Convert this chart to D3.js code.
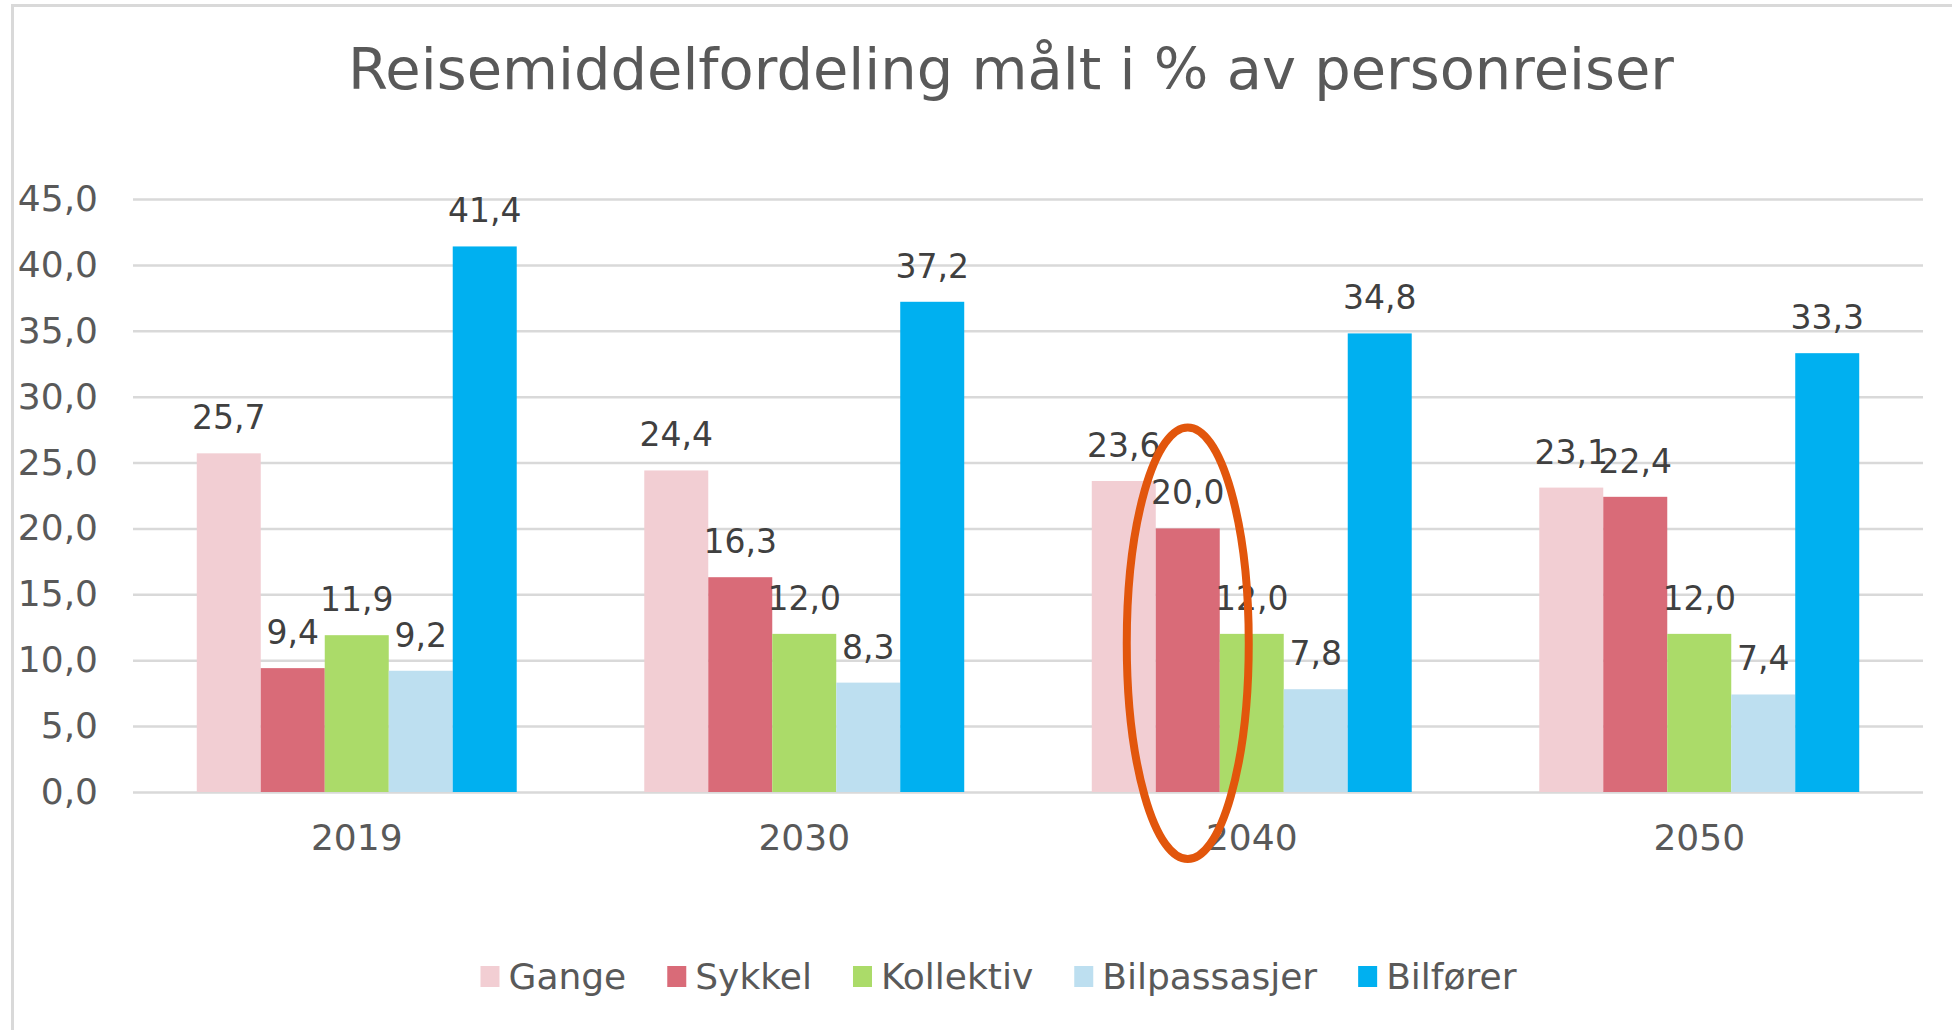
<!DOCTYPE html>
<html>
<head>
<meta charset="utf-8">
<script src="https://cdn.jsdelivr.net/npm/d3@7"></script>
<style>
  body { margin: 0; background: #fff; overflow: hidden; }
  svg { display: block; font-family: "DejaVu Sans", Verdana, sans-serif; }
</style>
</head>
<body>
<div id="chart"></div>
<script>
// data
var categories = ["2019", "2030", "2040", "2050"];
var seriesNames = ["Gange", "Sykkel", "Kollektiv", "Bilpassasjer", "Bilfører"];
var gange = [25.7, 24.4, 23.6, 23.1];
var sykkel = [9.4, 16.3, 20.0, 22.4];
var kollektiv = [11.9, 12.0, 12.0, 12.0];
var bilpassasjer = [9.2, 8.3, 7.8, 7.4];
var bilforer = [41.4, 37.2, 34.8, 33.3];
var yTicks = [0, 5, 10, 15, 20, 25, 30, 35, 40, 45];
var colors = ["#f2ced3", "#d96b78", "#abdb69", "#bddff0", "#00b0f0"];
var highlight = { category: "2040", series: "Sykkel" };

var width = 1952, height = 1030;
var plotLeft = 133, plotRight = 1923, plotTop = 199, plotBottom = 792;

var values = [gange, sykkel, kollektiv, bilpassasjer, bilforer];
var rows = [];
categories.forEach(function(c, i) {
  seriesNames.forEach(function(s, j) {
    rows.push({ category: c, series: s, value: values[j][i], color: colors[j] });
  });
});

var fmt = function(v) { return d3.format(".1f")(v).replace(".", ","); };

var svg = d3.select("#chart").append("svg")
  .attr("width", width)
  .attr("height", height);

// outer frame, only the top and left edges are in view
svg.append("path")
  .attr("d", "M12.5," + height + "V5.5H" + width)
  .attr("fill", "none")
  .attr("stroke", "#d9d9d9")
  .attr("stroke-width", 3);

svg.append("text")
  .attr("x", 1011).attr("y", 89)
  .attr("text-anchor", "middle")
  .attr("fill", "#595959")
  .style("font-size", "57.5px")
  .text("Reisemiddelfordeling målt i % av personreiser");

var x0 = d3.scaleBand()
  .domain(categories)
  .range([plotLeft, plotRight])
  .paddingInner(0.285)
  .paddingOuter(0.1425);

var x1 = d3.scaleBand()
  .domain(seriesNames)
  .range([0, x0.bandwidth()]);

var y = d3.scaleLinear()
  .domain([0, 45])
  .range([plotBottom, plotTop]);

// y axis with gridlines
var yAxis = svg.append("g")
  .attr("transform", "translate(" + plotLeft + ",0)")
  .call(d3.axisLeft(y)
    .tickValues(yTicks)
    .tickSize(-(plotRight - plotLeft))
    .tickPadding(35)
    .tickFormat(fmt));
yAxis.select(".domain").remove();
yAxis.selectAll("line")
  .attr("stroke", "#d9d9d9")
  .attr("stroke-width", 2.5);
yAxis.selectAll("text")
  .attr("fill", "#595959")
  .style("font-size", "36px")
  .style("font-family", "DejaVu Sans, sans-serif");

// bars
svg.append("g").selectAll("rect")
  .data(rows)
  .enter().append("rect")
    .attr("x", d => x0(d.category) + x1(d.series))
    .attr("y", d => y(d.value))
    .attr("width", x1.bandwidth())
    .attr("height", d => y(0) - y(d.value))
    .attr("fill", d => d.color);

// value labels
svg.append("g").selectAll("text")
  .data(rows)
  .enter().append("text")
    .attr("x", d => x0(d.category) + x1(d.series) + x1.bandwidth() / 2)
    .attr("y", d => y(d.value) - 24)
    .attr("text-anchor", "middle")
    .attr("fill", "#404040")
    .style("font-size", "33px")
    .text(d => fmt(d.value));

// category axis
var xAxis = svg.append("g")
  .attr("transform", "translate(0," + plotBottom + ")")
  .call(d3.axisBottom(x0).tickSize(0).tickPadding(32));
xAxis.select(".domain").remove();
xAxis.selectAll("text")
  .attr("fill", "#595959")
  .style("font-size", "36px")
  .style("font-family", "DejaVu Sans, sans-serif");

// legend
var legend = svg.append("g");
var items = legend.selectAll("g")
  .data(seriesNames)
  .enter().append("g");
items.append("rect")
  .attr("width", 19).attr("height", 21)
  .attr("y", 966)
  .attr("fill", (d, i) => colors[i]);
items.append("text")
  .attr("x", 28).attr("y", 989)
  .attr("fill", "#595959")
  .style("font-size", "36px")
  .text(d => d);
var gap = 41, pos = 0;
items.each(function() {
  var g = d3.select(this);
  g.attr("transform", "translate(" + pos + ",0)");
  pos += 28 + g.select("text").node().getComputedTextLength() + gap;
});
var legendWidth = pos - gap;
legend.attr("transform", "translate(" + (998.5 - legendWidth / 2) + ",0)");

// highlight ring round the chosen bar
var hv = values[seriesNames.indexOf(highlight.series)][categories.indexOf(highlight.category)];
var ringTop = y(hv) - 101, ringBottom = y(0) + 67;
svg.append("ellipse")
  .attr("cx", x0(highlight.category) + x1(highlight.series) + x1.bandwidth() / 2)
  .attr("cy", (ringTop + ringBottom) / 2)
  .attr("rx", 61)
  .attr("ry", (ringBottom - ringTop) / 2)
  .attr("fill", "none")
  .attr("stroke", "#e2560c")
  .attr("stroke-width", 8);
</script>
</body>
</html>
